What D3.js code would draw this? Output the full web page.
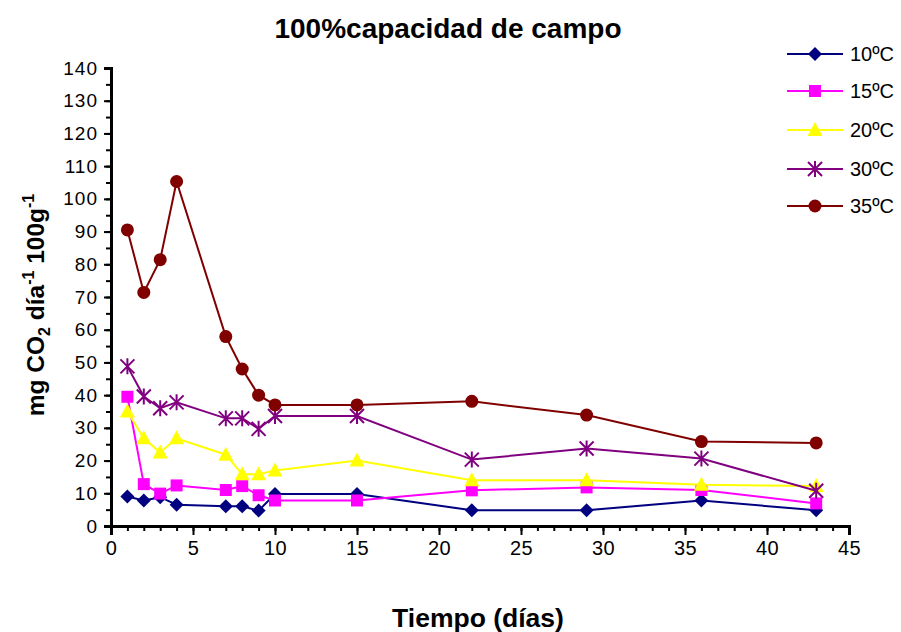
<!DOCTYPE html>
<html><head><meta charset="utf-8">
<script src="https://cdn.jsdelivr.net/npm/d3@7"></script>
<style>body{margin:0;background:#fff}svg{display:block;font-family:Arial,"Liberation Sans",sans-serif}</style>
</head><body><svg id="c" width="901" height="632"></svg>
<script>
const days = [1,2,3,4,7,8,9,10,15,22,29,36,43];
const seriesNames = ["10ºC","15ºC","20ºC","30ºC","35ºC"];
const v10 = [9,7.8,8.8,6.5,6,6,4.7,9.8,9.8,4.8,4.8,7.8,4.8];
const v15 = [39.5,12.8,9.9,12.4,11,12.2,9.4,7.8,7.8,10.9,11.8,11,6.9];
const v20 = [35,26.8,22.5,26.8,21.8,15.8,15.8,17,20,14,14,12.6,12.2];
const v30 = [48.8,39.6,36,37.8,32.9,32.9,29.7,33.6,33.6,20.3,23.7,20.6,10.8];
const v35 = [90.5,71.4,81.4,105.3,57.9,48,40,37,37,38.1,33.9,25.8,25.4];
const colors = ["#000080","#FF00FF","#FFFF00","#800080","#800000"];
const markers = ["diamond","square","triangle","asterisk","circle"];
const xTicks = [0,5,10,15,20,25,30,35,40,45];
const yTicks = [0,10,20,30,40,50,60,70,80,90,100,110,120,130,140];
const allSeries = [v10,v15,v20,v30,v35];

const svg = d3.select("#c");
const x = d3.scaleLinear().domain([0,45]).range([111,849]);
const y = d3.scaleLinear().domain([0,140]).range([526,68]);
const FF = "Arial,'Liberation Sans',sans-serif";

// title
svg.append("text").attr("x",448).attr("y",38).attr("text-anchor","middle")
  .attr("font-size",28).attr("font-weight","bold").text("100%capacidad de campo");

// axes
const gx = svg.append("g").attr("transform","translate(0,526)");
gx.call(d3.axisBottom(x).tickValues(d3.range(0,46,1)).tickSize(5).tickFormat(""));
gx.selectAll(".tick line").attr("stroke","#000").attr("stroke-width",2);
gx.select(".domain").remove();
const gx2 = svg.append("g").attr("transform","translate(0,526)");
gx2.call(d3.axisBottom(x).tickValues(xTicks).tickSize(9).tickPadding(6).tickFormat(d3.format("d")));
gx2.selectAll(".tick line").attr("stroke","#000").attr("stroke-width",2);
gx2.selectAll(".tick text").attr("font-size",20).attr("fill","#000").attr("font-family",FF).attr("letter-spacing",0.5);
gx2.select(".domain").attr("stroke","#000").attr("stroke-width",3);

const gy = svg.append("g").attr("transform","translate(111,0)");
gy.call(d3.axisLeft(y).tickValues(d3.range(0,141,5)).tickSize(5).tickFormat(""));
gy.selectAll(".tick line").attr("stroke","#000").attr("stroke-width",2);
gy.select(".domain").remove();
const gy2 = svg.append("g").attr("transform","translate(111,0)");
gy2.call(d3.axisLeft(y).tickValues(yTicks).tickSize(7).tickPadding(6).tickFormat(d3.format("d")));
gy2.selectAll(".tick line").attr("stroke","#000").attr("stroke-width",2);
gy2.selectAll(".tick text").attr("font-size",19).attr("fill","#000").attr("font-family",FF).attr("letter-spacing",1);
gy2.select(".domain").attr("stroke","#000").attr("stroke-width",3);

// axis titles
svg.append("text").attr("x",478).attr("y",627).attr("text-anchor","middle")
  .attr("font-size",26.5).attr("font-weight","bold").text("Tiempo (días)");
const yl = svg.append("text").attr("transform","translate(44,305) rotate(-90)")
  .attr("text-anchor","middle").attr("font-size",24.5).attr("font-weight","bold");
yl.append("tspan").text("mg CO");
yl.append("tspan").attr("font-size",16).attr("dy",6).text("2");
yl.append("tspan").attr("dy",-6).text(" día");
yl.append("tspan").attr("font-size",16).attr("dy",-10).text("-1");
yl.append("tspan").attr("dy",10).text(" 100g");
yl.append("tspan").attr("font-size",16).attr("dy",-10).text("-1");

function drawMarker(g, type, color, cx, cy){
  if(type==="diamond"){
    g.append("path").attr("d",`M${cx},${cy-7}L${cx+7},${cy}L${cx},${cy+7}L${cx-7},${cy}Z`).attr("fill",color);
  } else if(type==="square"){
    g.append("rect").attr("x",cx-6).attr("y",cy-6).attr("width",12).attr("height",12).attr("fill",color);
  } else if(type==="triangle"){
    g.append("path").attr("d",`M${cx},${cy-8}L${cx+7.5},${cy+6}L${cx-7.5},${cy+6}Z`).attr("fill",color);
  } else if(type==="asterisk"){
    const r=7;
    g.append("path").attr("d",`M${cx-r},${cy-r}L${cx+r},${cy+r}M${cx-r},${cy+r}L${cx+r},${cy-r}M${cx},${cy-r-1}L${cx},${cy+r+1}`)
      .attr("stroke",color).attr("stroke-width",2).attr("fill","none");
  } else {
    g.append("circle").attr("cx",cx).attr("cy",cy).attr("r",6.5).attr("fill",color);
  }
}

const line = d3.line().x((d,i)=>x(days[i])).y(d=>y(d));
allSeries.forEach((vals,si)=>{
  const g = svg.append("g");
  g.append("path").datum(vals).attr("d",line).attr("fill","none").attr("stroke",colors[si]).attr("stroke-width",2);
  vals.forEach((v,i)=>drawMarker(g,markers[si],colors[si],x(days[i]),y(v)));
});

// legend
const legY = [54,91,130,169,206];
seriesNames.forEach((n,i)=>{
  const g = svg.append("g");
  g.append("line").attr("x1",787).attr("x2",843).attr("y1",legY[i]).attr("y2",legY[i]).attr("stroke",colors[i]).attr("stroke-width",2);
  drawMarker(g,markers[i],colors[i],815,legY[i]);
  g.append("text").attr("x",850).attr("y",legY[i]+7).attr("font-size",20).text(n);
});
</script></body></html>
